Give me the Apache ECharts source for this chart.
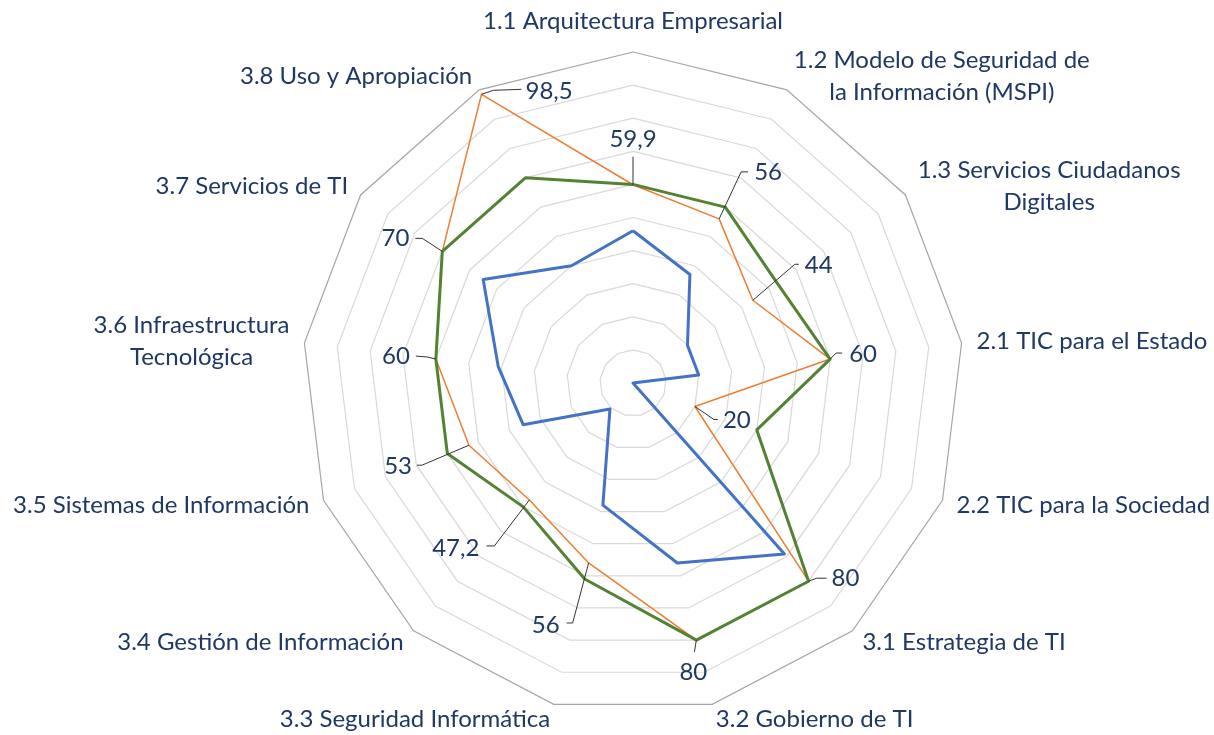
<!DOCTYPE html>
<html>
<head>
<meta charset="utf-8">
<script src="https://cdn.jsdelivr.net/npm/echarts@6/dist/echarts.min.js"></script>
<style>
html,body{margin:0;padding:0;background:#fff;}
#chart{width:1214px;height:735px;}
</style>
</head>
<body>
<div id="chart"></div>
<script>
// ---- Data (clockwise from top) ----
const categories = [
  '1.1 Arquitectura Empresarial',
  '1.2 Modelo de Seguridad de\nla Información (MSPI)',
  '1.3 Servicios Ciudadanos\nDigitales',
  '2.1 TIC para el Estado',
  '2.2 TIC para la Sociedad',
  '3.1 Estrategia de TI',
  '3.2 Gobierno de TI',
  '3.3 Seguridad Informática',
  '3.4 Gestión de Información',
  '3.5 Sistemas de Información',
  '3.6 Infraestructura\nTecnológica',
  '3.7 Servicios de TI',
  '3.8 Uso y Apropiación'
];
const orangeValues = [59.9, 56, 44, 60, 20, 80, 80, 56, 47.2, 53, 60, 70, 98.5];
const greenValues  = [60, 60, 53, 60, 40, 80, 80, 61, 50, 60, 60, 70, 70];
const blueValues   = [46, 37, 20, 20, 0, 69, 56, 38, 10.5, 35.5, 41, 55, 40];
const axisMax = 100;
const ringCount = 10;

// ---- Styling ----
const FONT = 'Lato, "Open Sans", sans-serif';
const FONT_SIZE = 24;
const TEXT_COLOR = '#1F3864';
const CX = 633, CY = 383, R = 331;
// leader line offsets (pixels, relative to each orange point): bend, end, text anchor, align
const leaderStyle = [
  {bend:[0,-28],  end:[0,-28],  text:[0,-45],  align:'center'},
  {bend:[22,-47], end:[29,-47], text:[35,-47], align:'left'},
  {bend:[42,-36], end:[46,-36], text:[52,-35], align:'left'},
  {bend:[6,-6],   end:[12,-6],  text:[19,-5],  align:'left'},
  {bend:[19,13],  end:[23,13],  text:[28,14],  align:'left'},
  {bend:[8,-3],   end:[18,-3],  text:[23,-3],  align:'left'},
  {bend:[-2,12],  end:[-2,12],  text:[-3,32],  align:'center'},
  {bend:[-16,60], end:[-22,60], text:[-29,62], align:'right'},
  {bend:[-35,46], end:[-43,46], text:[-50,48], align:'right'},
  {bend:[-47,20], end:[-52,20], text:[-57,21], align:'right'},
  {bend:[-8,-2],  end:[-20,-3], text:[-26,-3], align:'right'},
  {bend:[-20,-13],end:[-27,-13],text:[-33,-13],align:'right'},
  {bend:[12,-4],  end:[40,-5],  text:[44,-3],  align:'left'}
];

// ECharts radar runs counter-clockwise: reorder so the chart reads clockwise
const order = [0].concat(categories.map((_, i) => i).slice(1).reverse());
const pick = arr => order.map(i => arr[i]);

const splitColors = [];
for (let i = 0; i < ringCount; i++) splitColors.push('#D9D9D9');
splitColors.push('#A6A6A6');

const chart = echarts.init(document.getElementById('chart'), null, {renderer: 'canvas'});
const option = {
  backgroundColor: '#ffffff',
  animation: false,
  radar: {
    center: [CX, CY],
    radius: R,
    startAngle: 90,
    shape: 'polygon',
    splitNumber: ringCount,
    nameGap: 15,
    indicator: pick(categories).map(n => ({name: n, min: 0, max: axisMax})),
    axisName: {
      color: TEXT_COLOR,
      fontFamily: FONT,
      fontSize: FONT_SIZE,
      lineHeight: 32,
      formatter: function (name) {
        if (name.indexOf('\n') < 0) return name;
        return name.split('\n').map(l => '{c|' + l + '}').join('\n');
      },
      rich: {
        c: {align: 'center', color: TEXT_COLOR, fontFamily: FONT, fontSize: FONT_SIZE, lineHeight: 32}
      }
    },
    axisLine: {show: false},
    axisTick: {show: false},
    axisLabel: {show: false},
    splitArea: {show: false},
    splitLine: {lineStyle: {color: splitColors, width: 1.2}}
  },
  polar: {center: [CX, CY], radius: R},
  angleAxis: {type: 'value', min: 0, max: categories.length, startAngle: 90, clockwise: true, show: false},
  radiusAxis: {type: 'value', min: 0, max: axisMax, show: false},
  series: [
    {
      type: 'radar', symbol: 'none', z: 2,
      lineStyle: {color: '#4472C4', width: 3},
      itemStyle: {color: '#4472C4'},
      data: [{value: pick(blueValues), name: 'Azul'}]
    },
    {
      type: 'radar', symbol: 'none', z: 3,
      lineStyle: {color: '#ED7D31', width: 1.5},
      itemStyle: {color: '#ED7D31'},
      data: [{value: pick(orangeValues), name: 'Naranja'}]
    },
    {
      type: 'radar', symbol: 'none', z: 4,
      lineStyle: {color: '#548235', width: 3},
      itemStyle: {color: '#548235'},
      data: [{value: pick(greenValues), name: 'Verde'}]
    },
    {
      type: 'custom', coordinateSystem: 'polar', z: 10, silent: true,
      data: orangeValues.map((v, i) => [v, i]),
      renderItem: function (params, api) {
        const idx = params.dataIndex;
        const p = api.coord([api.value(0), api.value(1)]);
        const L = leaderStyle[idx];
        const txt = String(orangeValues[idx]).replace('.', ',');
        return {
          type: 'group',
          children: [
            {type: 'polyline', shape: {points: [p, [p[0] + L.bend[0], p[1] + L.bend[1]], [p[0] + L.end[0], p[1] + L.end[1]]]},
             style: {stroke: '#333333', lineWidth: 1, fill: null}},
            {type: 'text', x: p[0] + L.text[0], y: p[1] + L.text[1],
             style: {text: txt, fill: TEXT_COLOR, fontFamily: FONT, fontSize: FONT_SIZE, align: L.align, verticalAlign: 'middle'}}
          ]
        };
      }
    }
  ]
};
chart.setOption(option);
</script>
</body>
</html>
